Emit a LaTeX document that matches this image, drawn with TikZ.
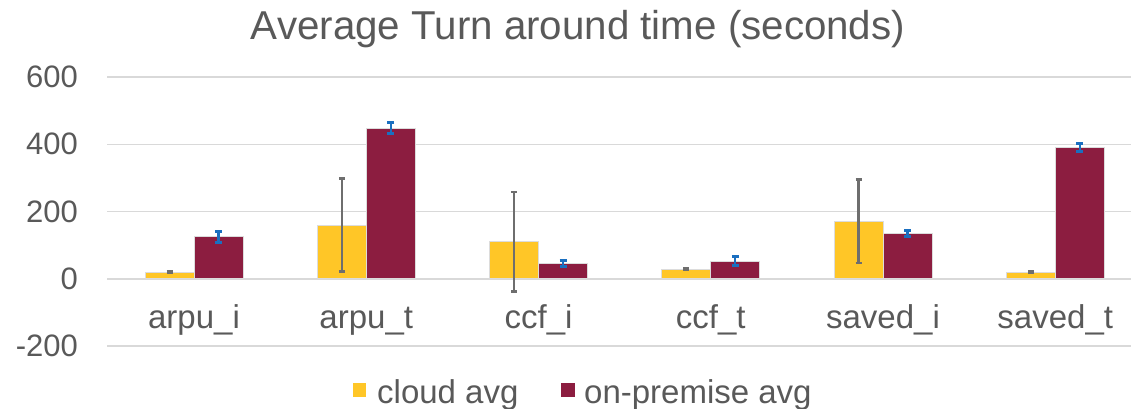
\documentclass[tikz,border=0pt]{standalone}
\usepackage{fontspec}
\setmainfont{Liberation Sans}
\definecolor{txt}{HTML}{595959}
\definecolor{gridc}{HTML}{D9D9D9}
\definecolor{gold}{HTML}{FFC627}
\definecolor{maroon}{HTML}{8C1D40}
\definecolor{errgray}{HTML}{6E6E6E}
\definecolor{errblue}{HTML}{1A6FC0}
\definecolor{edgec}{HTML}{DCDCDC}
\begin{document}
\begin{tikzpicture}[x=1pt,y=-1pt,
  gridline/.style={draw=gridc,line width=1.5pt},
  ticklbl/.style={text=txt,inner sep=0pt,font=\fontsize{31}{36}\selectfont},
  catlbl/.style={text=txt,inner sep=0pt,font=\fontsize{33}{38}\selectfont},
  legtxt/.style={text=txt,inner sep=0pt,font=\fontsize{33}{38}\selectfont},
  barbox/.style={draw=edgec,line width=0.7pt},
  errg/.style={draw=errgray,line width=2.4pt},
  errgcap/.style={draw=errgray,line width=2.8pt},
  errb/.style={draw=errblue,line width=2.4pt},
  errbcap/.style={draw=errblue,line width=3pt}]
\useasboundingbox (0,0) rectangle (1131,408);
% title
\node[text=txt,inner sep=0pt,anchor=base,font=\fontsize{40.3}{48}\selectfont] (title) at (578,39) {Average Turn around time (seconds)};
% grid and y labels
\foreach \v in {600,400,200,0,-200} {
  \pgfmathsetmacro\yy{278.75-0.33625*\v}
  \draw[gridline] (107,\yy) -- (1131,\yy);
  \node[ticklbl,anchor=east] (tick\v) at (78,\yy) {\v};
}
% bars
\foreach \i/\lab/\c/\ce/\m/\me in {0/arpu\_i/19/2/125/16,1/arpu\_t/159/138/448/16.5,2/ccf\_i/110/148/45/9.5,3/ccf\_t/29/2/53/13,4/saved\_i/171/124/135/8,5/saved\_t/19/2/391/12.5} {
  \pgfmathsetmacro\cx{194+172.25*\i}
  \pgfmathsetmacro\ya{278.75-0.33625*\c}
  \pgfmathsetmacro\yb{278.75-0.33625*\m}
  \pgfmathsetmacro\eat{278.75-0.33625*(\c+\ce)}
  \pgfmathsetmacro\eab{278.75-0.33625*(\c-\ce)}
  \pgfmathsetmacro\ebt{278.75-0.33625*(\m+\me)}
  \pgfmathsetmacro\ebb{278.75-0.33625*(\m-\me)}
  \pgfmathsetmacro\xa{\cx-24.5}
  \pgfmathsetmacro\xb{\cx+24.5}
  \filldraw[barbox,fill=gold] ({\cx-49},278.75) rectangle (\cx,\ya);
  \filldraw[barbox,fill=maroon] (\cx,278.75) rectangle ({\cx+49},\yb);
  \draw[errg] (\xa,\eat) -- (\xa,\eab);
  \draw[errgcap] ({\xa-3},\eat) -- ({\xa+3},\eat);
  \draw[errgcap] ({\xa-3},\eab) -- ({\xa+3},\eab);
  \draw[errb] (\xb,\ebt) -- (\xb,\ebb);
  \draw[errbcap] ({\xb-3.5},\ebt) -- ({\xb+3.5},\ebt);
  \draw[errbcap] ({\xb-3.5},\ebb) -- ({\xb+3.5},\ebb);
  \node[catlbl,anchor=base] (cat\i) at (\cx,328) {\lab};
}
% legend
\fill[gold] (353,383) rectangle (366,397);
\node[legtxt,anchor=base west] (leg1) at (377,403) {cloud avg};
\fill[maroon] (561,383) rectangle (575,397);
\node[legtxt,anchor=base west] (leg2) at (584,403) {on-premise avg};
\end{tikzpicture}
\end{document}
